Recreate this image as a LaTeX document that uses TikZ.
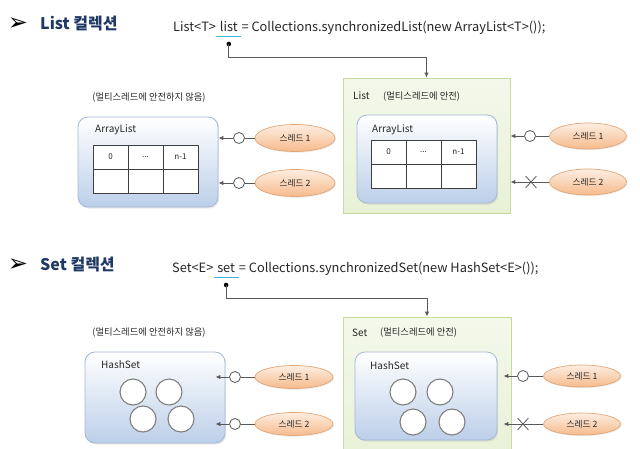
\documentclass[tikz,border=0pt]{standalone}
\usepackage{fontspec}
\setmainfont{Noto Sans CJK KR}
\newfontfamily\symfont{DejaVu Sans}
\usetikzlibrary{arrows.meta,shapes.geometric,shapes.misc,calc,shadows}
\definecolor{navy}{HTML}{1F3864}
\definecolor{codegray}{HTML}{262626}
\definecolor{boxedge}{HTML}{A3B8D6}
\definecolor{boxblue}{HTML}{BCCFE9}
\definecolor{gedge}{HTML}{C6DA9E}
\definecolor{gfill}{HTML}{E8F1D6}
\definecolor{oedge}{HTML}{E3A676}
\definecolor{otop}{HTML}{FDEEE2}
\definecolor{obot}{HTML}{F6BA8C}
\definecolor{linegray}{HTML}{595959}
\definecolor{tablegray}{HTML}{3F3F3F}
\definecolor{elemgray}{HTML}{808080}
\definecolor{ucyan}{HTML}{3CB4DC}
\begin{document}
\begin{tikzpicture}[x=1pt,y=1pt,
  title/.style={anchor=west, inner sep=0, font=\fontsize{16}{18}\selectfont\bfseries, text=navy},
  bulletmark/.style={inner sep=0, font=\symfont\fontsize{24}{26}\selectfont, text=black},
  code/.style={anchor=base west, inner sep=0, font=\fontsize{12.8}{15}\selectfont, text=codegray},
  note/.style={inner sep=0, font=\fontsize{9.3}{11}\selectfont, text=codegray},
  boxlabel/.style={anchor=west, inner sep=0, font=\fontsize{10}{12}\selectfont, text=codegray},
  bluebox/.style={draw=boxedge, line width=0.8pt, rounded corners=10pt, top color=white, bottom color=boxblue, inner sep=0,
     drop shadow={opacity=0.18, shadow xshift=1.2pt, shadow yshift=-1.5pt}},
  greenbox/.style={draw=gedge, line width=0.8pt, top color=gfill!50!white, bottom color=gfill, inner sep=0},
  thread/.style={ellipse, draw=oedge, line width=0.7pt, top color=otop, bottom color=obot, inner sep=0,
     font=\fontsize{8.7}{10}\selectfont, text=codegray,
     drop shadow={opacity=0.15, shadow xshift=1pt, shadow yshift=-1.2pt}},
  port/.style={circle, draw=linegray, line width=0.8pt, fill=white, minimum size=11pt, inner sep=0},
  xmark/.style={cross out, draw=linegray, line width=0.8pt, minimum width=10pt, minimum height=11pt, inner sep=0},
  conn/.style={draw=linegray, line width=1pt},
  arr/.style={conn, -{Latex[length=5pt,width=4.5pt]}},
  cell/.style={draw=tablegray, line width=0.7pt, fill=white, minimum width=35pt, minimum height=24pt, inner sep=0,
     font=\fontsize{8}{9}\selectfont, text=codegray},
  elem/.style={circle, draw=elemgray, line width=1.1pt, fill=white, minimum size=26pt, inner sep=0},
  uline/.style={draw=ucyan, line width=1.5pt}
]
\useasboundingbox (0,0) rectangle (640,-448);
\clip (0,0) rectangle (640,-448);

% ================= List section =================
\node[bulletmark] (b1) at (18,-24) {➢};
\node[title] (h1) at (40,-24) {List 컬렉션};
\node[code] (c1a) at (173,-31) {List<T>};
\node[code] (c1w) at ([xshift=3.5pt]c1a.base east) {list};
\node[code] (c1b) at ([xshift=3.5pt]c1w.base east) {= Collections.synchronizedList(new ArrayList<T>());};

% left (not safe)
\node[note] (lab1) at (149,-98) {(멀티스레드에 안전하지 않음)};
\node[bluebox, minimum width=140pt, minimum height=90pt] (al1) at (148,-162) {};
\node[boxlabel] (al1t) at (95,-130) {ArrayList};
\node[cell] (a1c0) at (110.5,-157) {0};
\node[cell] (a1c1) at (145.5,-157) {...};
\node[cell] (a1c2) at (180.5,-157) {n-1};
\node[cell] (a1d0) at (110.5,-181) {};
\node[cell] (a1d1) at (145.5,-181) {};
\node[cell] (a1d2) at (180.5,-181) {};
\node[thread, minimum width=80pt, minimum height=27pt] (t11) at (295,-138) {스레드 1};
\node[thread, minimum width=80pt, minimum height=27pt] (t12) at (295,-183) {스레드 2};
\node[port] (p11) at (239,-138) {};
\node[port] (p12) at (239,-183) {};
\draw[conn] (t11) -- (p11);
\draw[conn] (t12) -- (p12);
\draw[arr] (p11) -- (p11 -| al1.east);
\draw[arr] (p12) -- (p12 -| al1.east);

% right (safe)
\node[greenbox, minimum width=167pt, minimum height=135pt] (g1) at (426.5,-145.5) {};
\node[boxlabel] (g1t) at (353,-96) {List};
\node[note, anchor=west] (g1n) at (383,-97) {(멀티스레드에 안전)};
\node[bluebox, minimum width=140pt, minimum height=88pt] (al2) at (427,-159) {};
\node[boxlabel] (al2t) at (372,-130) {ArrayList};
\node[cell] (a2c0) at (388.5,-152) {0};
\node[cell] (a2c1) at (423.5,-152) {...};
\node[cell] (a2c2) at (458.5,-152) {n-1};
\node[cell] (a2d0) at (388.5,-176) {};
\node[cell] (a2d1) at (423.5,-176) {};
\node[cell] (a2d2) at (458.5,-176) {};
\node[thread, minimum width=77pt, minimum height=26pt] (t21) at (588,-136) {스레드 1};
\node[thread, minimum width=77pt, minimum height=26pt] (t22) at (588,-182) {스레드 2};
\node[port] (p21) at (530,-136) {};
\node[xmark] (x22) at (531,-182) {};
\draw[conn] (t21) -- (p21);
\draw[arr] (p21) -- (p21 -| g1.east);
\draw[arr] (t22) -- (t22 -| g1.east);

% pointer from "list"
\draw[uline] ([xshift=-3.5pt,yshift=-5.5pt]c1w.base west) -- ([xshift=3.5pt,yshift=-5.5pt]c1w.base east);
\coordinate (d1) at ([yshift=-13pt]c1w.base);
\fill[black] (d1) circle (2.3pt);
\draw[arr] (d1) -- ++(0,-13) -| (g1.north);

% ================= Set section =================
\node[bulletmark] (b2) at (18,-265) {➢};
\node[title] (h2) at (40,-265) {Set 컬렉션};
\node[code] (c2a) at (172,-272) {Set<E>};
\node[code] (c2w) at ([xshift=3.5pt]c2a.base east) {set};
\node[code] (c2b) at ([xshift=3.5pt]c2w.base east) {= Collections.synchronizedSet(new HashSet<E>());};

% left (not safe)
\node[note] (lab2) at (149,-333) {(멀티스레드에 안전하지 않음)};
\node[bluebox, minimum width=140pt, minimum height=91pt] (hs1) at (155,-397.5) {};
\node[boxlabel] (hs1t) at (101,-365) {HashSet};
\node[elem] (e11) at (133,-392) {};
\node[elem] (e12) at (169,-392) {};
\node[elem] (e13) at (143,-419) {};
\node[elem] (e14) at (181,-419) {};
\node[thread, minimum width=78pt, minimum height=23pt] (t31) at (294,-377) {스레드 1};
\node[thread, minimum width=78pt, minimum height=23pt] (t32) at (294,-424) {스레드 2};
\node[port] (p31) at (235,-377) {};
\node[port] (p32) at (235,-424) {};
\draw[conn] (t31) -- (p31);
\draw[conn] (t32) -- (p32);
\draw[arr] (p31) -- ($(p31 -| hs1.east)+(-10,0)$);
\draw[arr] (p32) -- ($(p32 -| hs1.east)+(-10,0)$);

% right (safe)
\node[greenbox, minimum width=168pt, minimum height=150pt] (g2) at (427,-392) {};
\node[boxlabel] (g2t) at (352,-333) {Set};
\node[note, anchor=west] (g2n) at (380,-333) {(멀티스레드에 안전)};
\node[bluebox, minimum width=142pt, minimum height=88pt] (hs2) at (426,-396) {};
\node[boxlabel] (hs2t) at (370,-366) {HashSet};
\node[elem] (e21) at (403,-392) {};
\node[elem] (e22) at (440,-392) {};
\node[elem] (e23) at (413,-422) {};
\node[elem] (e24) at (452,-422) {};
\node[thread, minimum width=77pt, minimum height=22pt] (t41) at (582,-376) {스레드 1};
\node[thread, minimum width=77pt, minimum height=22pt] (t42) at (582,-424) {스레드 2};
\node[port] (p41) at (523,-376) {};
\node[xmark] (x42) at (523,-424) {};
\draw[conn] (t41) -- (p41);
\draw[arr] (p41) -- ($(p41 -| hs2.east)+(6,0)$);
\draw[arr] (t42) -- ($(t42 -| hs2.east)+(6,0)$);

% pointer from "set"
\draw[uline] ([xshift=-3.5pt,yshift=-5.5pt]c2w.base west) -- ([xshift=3.5pt,yshift=-5.5pt]c2w.base east);
\coordinate (d2) at ([yshift=-13pt]c2w.base);
\fill[black] (d2) circle (2.3pt);
\draw[arr] (d2) -- ++(0,-13) -| (g2.north);
\end{tikzpicture}
\end{document}
